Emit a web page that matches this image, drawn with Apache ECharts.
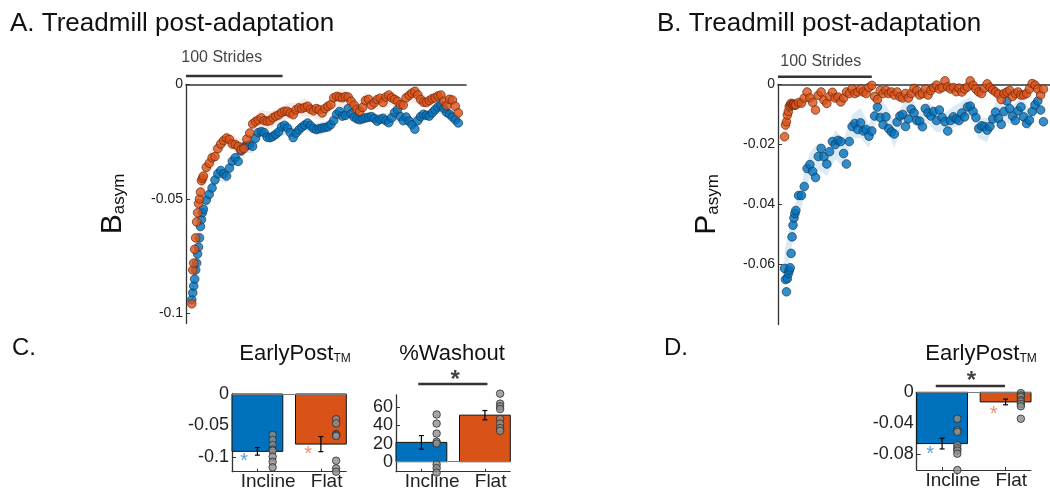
<!DOCTYPE html>
<html>
<head>
<meta charset="utf-8">
<script src="https://cdn.jsdelivr.net/npm/echarts@6/dist/echarts.min.js"></script>
<style>
  html, body { margin: 0; padding: 0; background: #fff; }
  #main { width: 1050px; height: 496px; }
</style>
</head>
<body>
<div id="main"></div>
<script>
// ---------- data ----------
// strides: first 12 strides one by one, then every 3rd stride
const stridesA = Array.from({ length: 12 }, (_, i) => 6 + i).concat(Array.from({ length: 89 }, (_, i) => 18 + 3 * i));
const stridesB = Array.from({ length: 12 }, (_, i) => 7 + i).concat(Array.from({ length: 89 }, (_, i) => 19 + 3 * i));

// A. B_asym
const inclineA = [-0.094, -0.091, -0.088, -0.085, -0.081, -0.078, -0.074, -0.071, -0.067, -0.062, -0.059, -0.056,
  -0.0545, -0.0505, -0.048, -0.0452, -0.0417, -0.039, -0.0376, -0.039, -0.040, -0.0365, -0.0335, -0.032, -0.0336, -0.029,
  -0.0272, -0.0267, -0.0263, -0.027, -0.0235, -0.021, -0.0205, -0.021, -0.023, -0.0232, -0.0227, -0.0218, -0.0207, -0.0185,
  -0.0178, -0.019, -0.021, -0.0232, -0.0212, -0.0198, -0.0186, -0.0177, -0.0168, -0.018, -0.0192, -0.0197, -0.0193, -0.019,
  -0.0188, -0.0185, -0.0175, -0.0157, -0.013, -0.0118, -0.0138, -0.0135, -0.0105, -0.0128, -0.0142, -0.015, -0.0154, -0.015,
  -0.0146, -0.0143, -0.014, -0.0148, -0.016, -0.0152, -0.0148, -0.0158, -0.0167, -0.0145, -0.0122, -0.011, -0.014, -0.0158,
  -0.0142, -0.016, -0.0175, -0.0195, -0.0158, -0.014, -0.013, -0.0135, -0.0138, -0.0124, -0.011, -0.0098, -0.009, -0.0105,
  -0.0122, -0.013, -0.0142, -0.0154, -0.0168];
const flatA = [-0.0958, -0.081, -0.078, -0.072, -0.067, -0.060, -0.056, -0.052, -0.050, -0.047, -0.042, -0.041,
  -0.040, -0.0362, -0.0344, -0.032, -0.0315, -0.028, -0.026, -0.0245, -0.0234, -0.024, -0.026, -0.0262, -0.027, -0.0285,
  -0.028, -0.0238, -0.0212, -0.0172, -0.0162, -0.0155, -0.0146, -0.0158, -0.016, -0.0158, -0.0145, -0.0138, -0.0133, -0.0122,
  -0.0117, -0.0117, -0.0125, -0.0132, -0.011, -0.0102, -0.0105, -0.010, -0.0095, -0.0108, -0.0115, -0.0105, -0.011, -0.0124,
  -0.0105, -0.0095, -0.0088, -0.0058, -0.0052, -0.0055, -0.0058, -0.0053, -0.0055, -0.0073, -0.009, -0.0108, -0.0117, -0.010,
  -0.007, -0.0065, -0.009, -0.008, -0.0066, -0.006, -0.0078, -0.0055, -0.0046, -0.0058, -0.0065, -0.0073, -0.0088, -0.009,
  -0.0058, -0.0048, -0.0038, -0.003, -0.0045, -0.0065, -0.0077, -0.0078, -0.007, -0.0062, -0.0058, -0.005, -0.0046, -0.0073,
  -0.0093, -0.0065, -0.0068, -0.0095, -0.0124];
// shaded error, every 9th stride starting at stride 6
const inclineA_se = [0.004, 0.003, 0.003, 0.0025, 0.003, 0.002, 0.0025, 0.003, 0.002, 0.0025, 0.002, 0.003, 0.002, 0.0025, 0.002,
  0.0028, 0.002, 0.0022, 0.002, 0.0025, 0.002, 0.0018, 0.0022, 0.002, 0.0025, 0.002, 0.0022, 0.0018, 0.002, 0.0025, 0.002];
const flatA_se = [0.003, 0.004, 0.005, 0.004, 0.003, 0.0035, 0.004, 0.003, 0.0035, 0.004, 0.003, 0.0035, 0.003, 0.004, 0.003,
  0.0035, 0.003, 0.004, 0.0025, 0.003, 0.0035, 0.003, 0.0025, 0.0035, 0.003, 0.003, 0.004, 0.0025, 0.003, 0.003, 0.003];

// B. P_asym
const inclineB = [-0.0613, -0.065, -0.0691, -0.0647, -0.063, -0.062, -0.0611, -0.0563, -0.0508, -0.0469, -0.0445, -0.043,
  -0.042, -0.037, -0.037, -0.034, -0.028, -0.0267, -0.029, -0.031, -0.024, -0.0213, -0.0241, -0.0265, -0.0224, -0.019,
  -0.020, -0.0186, -0.019, -0.023, -0.0265, -0.019, -0.014, -0.013, -0.015, -0.0128, -0.0155, -0.015, -0.0172, -0.0155,
  -0.0105, -0.0075, -0.011, -0.0134, -0.0108, -0.0147, -0.0158, -0.0165, -0.0125, -0.0105, -0.010, -0.014, -0.0115, -0.0082,
  -0.0095, -0.012, -0.0122, -0.0141, -0.008, -0.0095, -0.0105, -0.009, -0.012, -0.0085, -0.011, -0.0124, -0.0155, -0.012,
  -0.0108, -0.0115, -0.012, -0.0095, -0.0108, -0.0075, -0.0072, -0.009, -0.011, -0.0147, -0.0138, -0.014, -0.0152, -0.014,
  -0.0115, -0.0092, -0.0113, -0.0133, -0.009, -0.0055, -0.008, -0.0105, -0.012, -0.0088, -0.0075, -0.0108, -0.013, -0.0119,
  -0.009, -0.0068, -0.0055, -0.0085, -0.0124];
const flatB = [-0.0174, -0.0135, -0.0124, -0.0102, -0.009, -0.0074, -0.0068, -0.0063, -0.0066, -0.0068, -0.0065, -0.0069,
  -0.0068, -0.006, -0.0062, -0.0045, -0.0025, -0.0045, -0.006, -0.0085, -0.0036, -0.0025, -0.0052, -0.0063, -0.004, -0.0026,
  -0.0045, -0.0042, -0.0058, -0.0045, -0.0025, -0.003, -0.0015, -0.003, -0.0025, -0.0015, -0.0025, -0.003, -0.001, -0.0003,
  -0.004, -0.005, -0.002, -0.003, -0.0019, -0.003, -0.0025, -0.0035, -0.0025, -0.0041, -0.0045, -0.003, -0.0045, -0.003,
  -0.0013, -0.002, -0.0035, -0.003, -0.0015, -0.0035, -0.002, -0.001, -0.0002, -0.0015, -0.001, 0.0012, -0.0008, -0.0015,
  -0.001, -0.0024, -0.0012, -0.0025, -0.0015, -0.0008, 0.0012, -0.0003, -0.0015, -0.0025, -0.003, -0.0012, 0.0002, -0.001,
  -0.0018, -0.0025, -0.0032, -0.005, -0.003, -0.0025, -0.002, -0.004, -0.003, -0.0025, -0.0035, -0.0035, -0.003, -0.0015,
  0.0003, -0.0002, -0.0015, -0.0035, -0.0015];
// shaded error, every 9th stride starting at stride 7
const inclineB_se = [0.006, 0.005, 0.004, 0.004, 0.0045, 0.004, 0.005, 0.0045, 0.004, 0.005, 0.004, 0.0035, 0.004, 0.0045, 0.0035,
  0.004, 0.003, 0.0035, 0.004, 0.003, 0.0035, 0.004, 0.003, 0.0035, 0.004, 0.003, 0.0035, 0.003, 0.004, 0.0035, 0.003];
const flatB_se = [0.002, 0.0015, 0.0012, 0.0015, 0.0012, 0.001, 0.0012, 0.0015, 0.001, 0.0012, 0.001, 0.0012, 0.0015, 0.001, 0.0012,
  0.001, 0.0012, 0.0015, 0.001, 0.0012, 0.001, 0.0012, 0.0015, 0.001, 0.0012, 0.001, 0.0012, 0.0015, 0.001, 0.0012, 0.001];

// bar panels
const groups = ['Incline', 'Flat'];
const earlyPostB_mean = [-0.091, -0.0795];
const earlyPostB_se = [0.006, 0.012];
const earlyPostB_subj = [[-0.065, -0.073, -0.081, -0.088, -0.090, -0.0995, -0.1075, -0.1164],
                         [-0.040, -0.0465, -0.0635, -0.065, -0.0667, -0.1059, -0.118, -0.1233]];
const washout_mean = [21.3, 51.3];
const washout_se = [7.5, 5.1];
const washout_subj = [[52, 42, 31, 22, 20, -3, -7, -12],
                      [75, 64, 61, 58, 47, 42, 37, 34]];
const earlyPostP_mean = [-0.066, -0.0124];
const earlyPostP_se = [0.0069, 0.0037];
const earlyPostP_subj = [[-0.034, -0.049, -0.051, -0.068, -0.072, -0.075, -0.079, -0.100],
                         [-0.001, -0.004, -0.006, -0.010, -0.012, -0.015, -0.018, -0.034]];

const ticksA = [0, -0.05, -0.1];
const ticksB = [0, -0.02, -0.04, -0.06];
const ticksC1 = [0, -0.05, -0.1];
const ticksC2 = [0, 20, 40, 60];
const ticksD = [0, -0.04, -0.08];

// ---------- styling ----------
const NARROW = '"Liberation Sans Narrow", "Liberation Sans", Arial, sans-serif';
const SANS = '"Liberation Sans", Arial, sans-serif';
const BLUE = '#0072BD', ORANGE = '#D95319';
const BLUE_EDGE = '#173955', ORANGE_EDGE = '#6b260a';
const AXIS = '#333';

var chart = echarts.init(document.getElementById('main'));

function pairs(xs, ys) {
  return ys.map((v, i) => [xs[i], v]);
}

function bandSeries(grid, strides, values, se, start, color) {
  const rows = se.map((s, k) => {
    const st = start + 9 * k;
    const v = values[strides.indexOf(st)];
    return [st, v - s, v + s];
  });
  return {
    type: 'custom', xAxisIndex: grid, yAxisIndex: grid, data: rows, silent: true, z: 1,
    renderItem: (params, api) => {
      if (params.dataIndexInside !== 0) return null;
      const up = rows.map(r => api.coord([r[0], r[2]]));
      const lo = rows.map(r => api.coord([r[0], r[1]])).reverse();
      return { type: 'polygon', shape: { points: up.concat(lo) }, style: { fill: color } };
    }
  };
}

function dotSeries(grid, strides, values, fill, edge) {
  return {
    type: 'scatter', xAxisIndex: grid, yAxisIndex: grid, data: pairs(strides, values),
    symbolSize: 8.6, clip: false, z: 3,
    itemStyle: { color: fill, borderColor: edge, borderWidth: 0.9 }
  };
}

function textMark(grid, x, y, text, style) {
  return {
    type: 'scatter', xAxisIndex: grid, yAxisIndex: grid, data: [[x, y]], clip: false, silent: true,
    symbolSize: 1, itemStyle: { color: 'rgba(0,0,0,0)' }, z: 6,
    label: Object.assign({ show: true, position: 'inside', formatter: text }, style)
  };
}

function lineMark(grid, x1, x2, y, width) {
  return {
    type: 'line', xAxisIndex: grid, yAxisIndex: grid, data: [[x1, y], [x2, y]], clip: false, silent: true,
    symbol: 'none', lineStyle: { color: AXIS, width: width }, z: 5
  };
}

const barHalf = 0.4;
function barSeries(grid, means) {
  return {
    type: 'custom', xAxisIndex: grid, yAxisIndex: grid, data: means.map((m, i) => [i + 1, m]), z: 2,
    renderItem: (params, api) => {
      const x = api.value(0), v = api.value(1);
      const p0 = api.coord([x - barHalf, 0]);
      const p1 = api.coord([x + barHalf, v]);
      return {
        type: 'rect',
        shape: { x: p0[0], y: Math.min(p0[1], p1[1]), width: p1[0] - p0[0], height: Math.abs(p1[1] - p0[1]) },
        style: { fill: params.dataIndex === 0 ? BLUE : ORANGE, stroke: '#111', lineWidth: 1 }
      };
    }
  };
}

function errSeries(grid, means, se) {
  return {
    type: 'custom', xAxisIndex: grid, yAxisIndex: grid, data: means.map((m, i) => [i + 1, m, se[i]]), z: 4,
    renderItem: (params, api) => {
      const x = api.value(0), m = api.value(1), e = api.value(2);
      const t = api.coord([x, m + e]), b = api.coord([x, m - e]);
      const st = { stroke: '#000', lineWidth: 1.2 };
      return {
        type: 'group', children: [
          { type: 'line', shape: { x1: t[0], y1: t[1], x2: b[0], y2: b[1] }, style: st },
          { type: 'line', shape: { x1: t[0] - 2.5, y1: t[1], x2: t[0] + 2.5, y2: t[1] }, style: st },
          { type: 'line', shape: { x1: b[0] - 2.5, y1: b[1], x2: b[0] + 2.5, y2: b[1] }, style: st }
        ]
      };
    }
  };
}

function subjSeries(grid, subj) {
  const data = [];
  subj.forEach((vals, g) => vals.forEach(v => data.push([g + 1.24, v])));
  return {
    type: 'scatter', xAxisIndex: grid, yAxisIndex: grid, data: data, symbolSize: 7.5, clip: false, z: 5,
    itemStyle: { color: '#8f8f8f', borderColor: '#2a2a2a', borderWidth: 1 },
    markLine: {
      silent: true, symbol: 'none', label: { show: false },
      lineStyle: { color: '#7a7a7a', type: 'solid', width: 1.2 },
      data: [{ yAxis: 0 }]
    }
  };
}

function stratXAxis(grid) {
  return {
    gridIndex: grid, type: 'value', min: 0, max: 290, position: 'top',
    axisLine: { show: true, onZero: false, lineStyle: { color: AXIS, width: 1.6 } },
    axisTick: { show: false }, axisLabel: { show: false }, splitLine: { show: false }
  };
}

function barXAxis(grid) {
  return {
    gridIndex: grid, type: 'value', min: 0.6, max: 2.4, position: 'bottom',
    axisLine: { show: true, onZero: false, lineStyle: { color: AXIS, width: 1 } },
    axisTick: { show: true, inside: true, length: 3, customValues: [1, 2], lineStyle: { color: AXIS } },
    axisLabel: {
      show: true, customValues: [1.17, 2.09], margin: 1,
      formatter: v => groups[v < 1.5 ? 0 : 1],
      fontFamily: NARROW, fontSize: 19, color: '#222'
    },
    splitLine: { show: false }
  };
}

function yAxis(grid, min, max, ticks, fontSize, extra) {
  return Object.assign({
    gridIndex: grid, type: 'value', min: min, max: max, position: 'left',
    axisLine: { show: true, onZero: false, lineStyle: { color: AXIS, width: 1.3 } },
    axisTick: { show: true, inside: true, length: 4, customValues: ticks, lineStyle: { color: AXIS } },
    axisLabel: { show: true, customValues: ticks, margin: 3, fontFamily: NARROW, fontSize: fontSize, color: '#222' },
    splitLine: { show: false }
  }, extra || {});
}

const nameRich = {
  a: { fontSize: 30, fontFamily: SANS, fontWeight: 'normal', color: '#111' },
  b: { fontSize: 17, fontFamily: SANS, fontWeight: 'normal', color: '#111', verticalAlign: 'bottom', lineHeight: 6 }
};
const titleRich = {
  a: { fontSize: 22, fontFamily: SANS, fontWeight: 'normal', color: '#111' },
  b: { fontSize: 12, fontFamily: SANS, fontWeight: 'normal', color: '#111', verticalAlign: 'bottom', lineHeight: 4 }
};
const subTitleStyle = { fontWeight: 'normal', rich: titleRich };
const panelText = { fontFamily: SANS, fontSize: 26, fontWeight: 'normal', color: '#111' };
const letterText = { fontFamily: SANS, fontSize: 24, fontWeight: 'normal', color: '#111' };
const starStyle = (c) => ({ fontSize: 20, color: c, fontFamily: SANS, offset: [0, 4] });
const sigStar = { fontSize: 24, color: '#111', fontFamily: SANS, fontWeight: 'bold', offset: [0, 5] };
const scaleText = { fontSize: 16, color: '#111', fontFamily: NARROW };

var option = {
  backgroundColor: '#fff',
  animation: false,
  title: [
    { text: 'A. Treadmill post-adaptation', left: 5, top: 6, textStyle: panelText },
    { text: 'B. Treadmill post-adaptation', left: 652, top: 6, textStyle: panelText },
    { text: 'C.', left: 7, top: 331, textStyle: letterText },
    { text: 'D.', left: 659, top: 331, textStyle: letterText },
    { text: '{a|EarlyPost}{b|TM}', left: 290, top: 338, textAlign: 'center', textStyle: subTitleStyle },
    { text: '{a|%Washout}', left: 447, top: 338, textAlign: 'center', textStyle: subTitleStyle },
    { text: '{a|EarlyPost}{b|TM}', left: 976, top: 338, textAlign: 'center', textStyle: subTitleStyle }
  ],
  grid: [
    { left: 186, top: 84.5, width: 280, height: 239 },
    { left: 778, top: 84.5, width: 280, height: 240 },
    { left: 232, top: 394, width: 114.3, height: 77.7 },
    { left: 396, top: 395, width: 114.3, height: 76.7 },
    { left: 916.7, top: 392.3, width: 114.3, height: 77.7 }
  ],
  xAxis: [stratXAxis(0), stratXAxis(1), barXAxis(2), barXAxis(3), barXAxis(4)],
  yAxis: [
    yAxis(0, -0.1044, 0, ticksA, 14, {
      name: '{a|B}{b|asym}', nameLocation: 'middle', nameRotate: 90, nameGap: 58,
      nameTextStyle: { rich: nameRich }
    }),
    yAxis(1, -0.08, 0, ticksB, 14, {
      name: '{a|P}{b|asym}', nameLocation: 'middle', nameRotate: 90, nameGap: 56,
      nameTextStyle: { rich: nameRich }
    }),
    yAxis(2, -0.1233, 0, ticksC1, 18),
    yAxis(3, -11, 73.5, ticksC2, 18),
    yAxis(4, -0.1, 0, ticksD, 18)
  ],
  series: [
    // A
    bandSeries(0, stridesA, inclineA, inclineA_se, 6, 'rgba(0,114,189,0.14)'),
    bandSeries(0, stridesA, flatA, flatA_se, 6, 'rgba(217,83,25,0.13)'),
    dotSeries(0, stridesA, inclineA, BLUE, BLUE_EDGE),
    dotSeries(0, stridesA, flatA, ORANGE, ORANGE_EDGE),
    lineMark(0, 0, 100, 0.0037, 2.6),
    textMark(0, 37, 0.0116, '100 Strides', scaleText),
    // B
    bandSeries(1, stridesB, inclineB, inclineB_se, 7, 'rgba(0,114,189,0.14)'),
    bandSeries(1, stridesB, flatB, flatB_se, 7, 'rgba(217,83,25,0.13)'),
    dotSeries(1, stridesB, inclineB, BLUE, BLUE_EDGE),
    dotSeries(1, stridesB, flatB, ORANGE, ORANGE_EDGE),
    lineMark(1, 0, 100, 0.0026, 2.6),
    textMark(1, 45.6, 0.0076, '100 Strides', scaleText),
    // C1
    barSeries(2, earlyPostB_mean),
    errSeries(2, earlyPostB_mean, earlyPostB_se),
    subjSeries(2, earlyPostB_subj),
    textMark(2, 0.79, -0.101, '*', starStyle('#2b8ad6')),
    textMark(2, 1.80, -0.0901, '*', starStyle('#e8743f')),
    // C2
    barSeries(3, washout_mean),
    errSeries(3, washout_mean, washout_se),
    subjSeries(3, washout_subj),
    lineMark(3, 0.95, 2.04, 85.7, 2.6),
    textMark(3, 1.53, 95.6, '*', sigStar),
    // D
    barSeries(4, earlyPostP_mean),
    errSeries(4, earlyPostP_mean, earlyPostP_se),
    subjSeries(4, earlyPostP_subj),
    lineMark(4, 0.9, 1.99, 0.0081, 2.6),
    textMark(4, 1.46, 0.020, '*', sigStar),
    textMark(4, 0.81, -0.0745, '*', starStyle('#2b8ad6')),
    textMark(4, 1.81, -0.0228, '*', starStyle('#e8743f'))
  ]
};

option && chart.setOption(option);
window.onresize = () => { chart.resize(); };
</script>
</body>
</html>
